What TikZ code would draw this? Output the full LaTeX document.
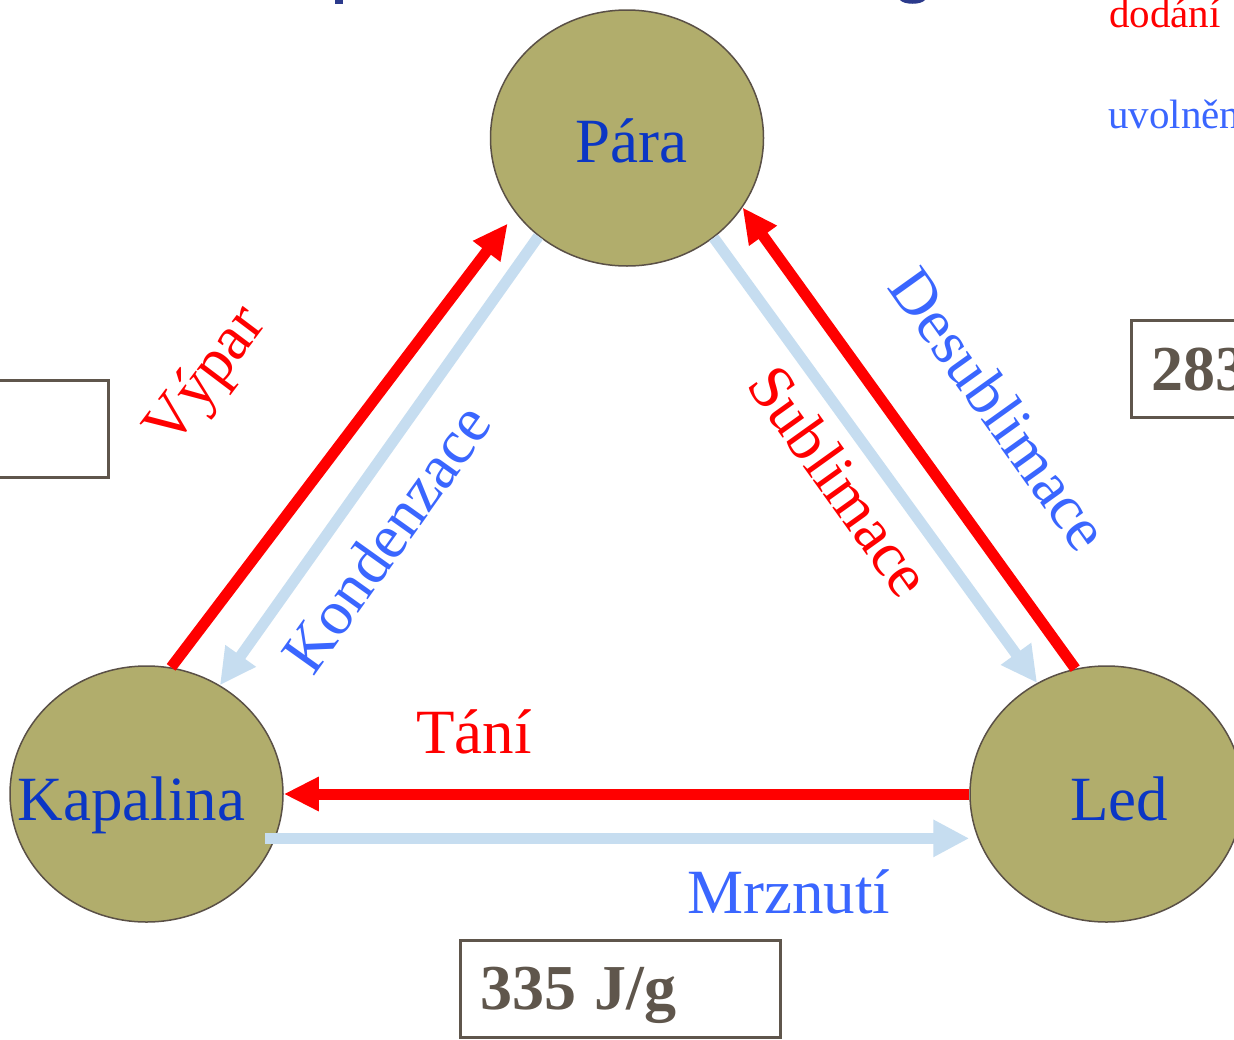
\documentclass[tikz,border=0pt]{standalone}
\usepackage{fontspec}
\setmainfont{Liberation Serif}
\usetikzlibrary{arrows.meta,shapes.geometric,calc}
\definecolor{stateolive}{HTML}{B1AD6C}
\definecolor{edgegray}{HTML}{5A5046}
\definecolor{nodeblue}{HTML}{0B36C4}
\definecolor{lblblue}{HTML}{3A66FF}
\definecolor{lightblu}{HTML}{C6DDF0}
\definecolor{boxgray}{HTML}{5F564C}
\definecolor{titleblue}{HTML}{2B3A8C}
\begin{document}
\begin{tikzpicture}[x=1pt,y=-1pt,
  state/.style={ellipse, draw=edgegray, line width=1.5pt, fill=stateolive,
    minimum width=273pt, minimum height=256pt, inner sep=0pt},
  nodetxt/.style={anchor=base, text=nodeblue, inner sep=0pt,
    font=\fontsize{63}{70}\selectfont},
  redarrow/.style={draw=red, line width=11pt, -{Triangle[length=35pt,width=32pt]}},
  bluearrow/.style={draw=lightblu, line width=11pt, -{Triangle[length=36pt,width=35pt]}},
  redlbl/.style={text=red, inner sep=0pt, font=\fontsize{63}{70}\selectfont},
  bluelbl/.style={text=lblblue, inner sep=0pt, font=\fontsize{63}{70}\selectfont},
  valbox/.style={draw=boxgray, line width=2.5pt, text=boxgray, anchor=north west,
    align=left, text depth=0pt, font=\fontsize{64}{70}\selectfont\bfseries},
  sidetxt/.style={anchor=base west, inner sep=0pt, font=\fontsize{41}{46}\selectfont}
]
\clip (0,0) rectangle (1234,1039);
\fill[white] (0,0) rectangle (1234,1039);

% fragments of the cut-off title
\fill[titleblue] (335,0) rectangle (343,3.5);
\fill[titleblue] (900,0) .. controls (904,5) and (921,5) .. (925,0) -- cycle;

% states
\node[state] (para) at (627,138) {};
\node[state] (kap) at (146.5,794) {};
\node[state] (led) at (1106.5,794) {};
\node[nodetxt] (paratxt) at (631.5,162) {Pára};
\node[nodetxt] (kaptxt) at (131.5,820) {Kapalina};
\node[nodetxt] (ledtxt) at (1119,820) {Led};

% connectors
\draw[redarrow, shorten >=13pt] (kap.79) -- (para.214);
\draw[bluearrow] (para.228) -- (kap.56);
\draw[bluearrow] (para.311.6) -- (led.122.8);
\draw[redarrow] (led.104.8) -- (para.329.7);
\draw[redarrow] (led.west) -- (kap.east);
\draw[bluearrow, shorten <=-10pt] (kap.-19.5) -- (kap.-19.5 -| led.west);

% connector labels
\node[redlbl, rotate=53] (lvypar) at (208,378) {Výpar};
\node[bluelbl, rotate=54.5] (lkond) at (386,538) {Kondenzace};
\node[redlbl, rotate=-54.4] (lsubl) at (840,481) {Sublimace};
\node[bluelbl, rotate=-54.4] (ldesubl) at (1000,409) {Desublimace};
\node[redlbl, anchor=base] (ltani) at (474,753) {Tání};
\node[bluelbl, anchor=base] (lmrz) at (789,913) {Mrznutí};

% value boxes
\node[valbox, minimum width=320pt, minimum height=97pt, text width=280pt, inner xsep=19pt]
  (box335) at (459,939) {335\kern-0.05em\ J/g};
\node[valbox, minimum width=140pt, minimum height=97pt, text width=100pt, inner xsep=20pt]
  (box283) at (1130,319) {283};
\node[draw=boxgray, line width=2.5pt, anchor=north west, minimum width=127pt, minimum height=97pt]
  (boxleft) at (-20,379) {};

% legend fragments at the right edge
\node[sidetxt, text=red] (dodani) at (1109,27) {dodání};
\node[sidetxt, text=lblblue] (uvol) at (1108,128) {uvolněn};
\end{tikzpicture}
\end{document}
